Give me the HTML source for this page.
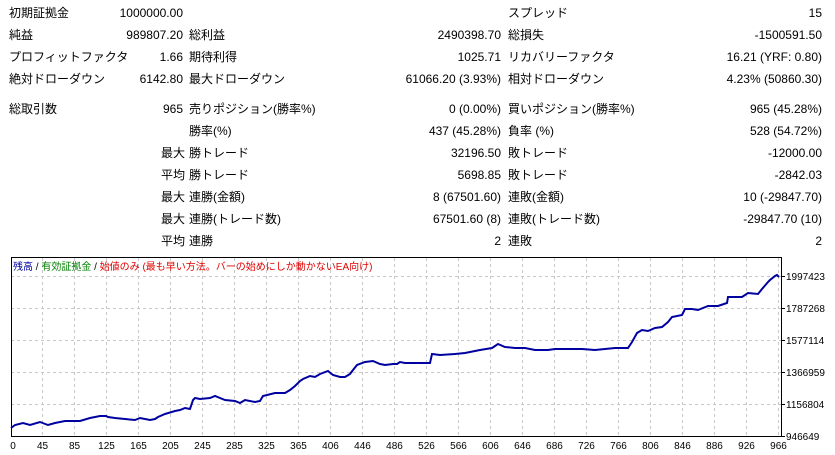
<!DOCTYPE html>
<html><head><meta charset="utf-8"><style>
body{margin:0;width:835px;height:455px;background:#fff;overflow:hidden;position:relative;font-family:"Liberation Sans","Noto Sans CJK JP",sans-serif;font-size:12px;color:#000}
.t{position:absolute;white-space:nowrap;line-height:16px}
.r{text-align:right}
</style></head><body>
<div id="tbl"></div>
<script>
var rows=[
[13,"初期証拠金","1000000.00","","","スプレッド","15"],
[35,"純益","989807.20","総利益","2490398.70","総損失","-1500591.50"],
[57,"プロフィットファクタ","1.66","期待利得","1025.71","リカバリーファクタ","16.21 (YRF: 0.80)"],
[79,"絶対ドローダウン","6142.80","最大ドローダウン","61066.20 (3.93%)","相対ドローダウン","4.23% (50860.30)"],
[109,"総取引数","965","売りポジション(勝率%)","0 (0.00%)","買いポジション(勝率%)","965 (45.28%)"],
[131,"","","勝率(%)","437 (45.28%)","負率 (%)","528 (54.72%)"],
[153,"","最大","勝トレード","32196.50","敗トレード","-12000.00"],
[175,"","平均","勝トレード","5698.85","敗トレード","-2842.03"],
[197,"","最大","連勝(金額)","8 (67501.60)","連敗(金額)","10 (-29847.70)"],
[219,"","最大","連勝(トレード数)","67501.60 (8)","連敗(トレード数)","-29847.70 (10)"],
[241,"","平均","連勝","2","連敗","2"]];
var h="";
rows.forEach(function(r,i){var y=r[0]-8;
 h+='<div class="t" style="left:9px;top:'+y+'px">'+r[1]+'</div>';
 if(r[2]){ if(i>=6) h+='<div class="t" style="left:161px;top:'+y+'px">'+r[2]+'</div>';
 else h+='<div class="t r" style="right:652px;top:'+y+'px">'+r[2]+'</div>';}
 h+='<div class="t" style="left:189px;top:'+y+'px">'+r[3]+'</div>';
 h+='<div class="t r" style="right:334px;top:'+y+'px">'+r[4]+'</div>';
 h+='<div class="t" style="left:508px;top:'+y+'px">'+r[5]+'</div>';
 h+='<div class="t r" style="right:13px;top:'+y+'px">'+r[6]+'</div>';
});
document.getElementById("tbl").innerHTML=h;
</script>
<svg width="835" height="455" style="position:absolute;left:0;top:0" font-family="Liberation Sans, Noto Sans CJK JP, sans-serif">
<g stroke="#c8c8c8" stroke-dasharray="3,3" stroke-width="1">
<line x1="11" x2="781" y1="276.5" y2="276.5"/><line x1="11" x2="781" y1="308.5" y2="308.5"/><line x1="11" x2="781" y1="340.5" y2="340.5"/><line x1="11" x2="781" y1="372.5" y2="372.5"/><line x1="11" x2="781" y1="404.5" y2="404.5"/>
<g id="vg"></g>
</g>
<rect x="11.5" y="257.5" width="770" height="179" fill="none" stroke="#000"/>
<polyline fill="none" stroke="#0000a0" stroke-width="2" points="11,428 15,425 23,423 30,425 40,422 48,425 55,423 65,421 80,421 90,418 100,416 106,416 108,417 115,418 125,419 135,420 140,418 150,420 155,419 158,417 165,414 175,411 180,410 185,408 190,409 193,400 195,398 200,399 210,398 215,396 225,400 235,401 240,403 245,400 255,402 260,401 263,396 275,393 285,393 290,390 295,386 300,381 303,379 310,376 315,377 320,374 328,371 333,375 340,377 345,377 350,374 353,370 357,365 365,362 373,361 380,364 385,365 393,364 397,364 400,362 405,363 415,363 430,363 432,354 440,355 455,354 465,353 480,350 492,348 498,344 505,347 515,348 525,348 535,350 548,350 555,349 582,349 595,350 615,348 628,348 632,342 637,333 642,330 648,331 655,328 662,327 668,322 672,317 682,315 685,309 692,309 698,310 708,306 718,306 727,303 728,297 742,297 748,293 758,294 762,289 768,282 770,280 775,276 777,275 779,277"/>
<text x="13" y="270" font-size="10"><tspan fill="#0000a0">残高</tspan><tspan fill="#000"> / </tspan><tspan fill="#008000">有効証拠金</tspan><tspan fill="#000"> / </tspan><tspan fill="#e00000">始値のみ (最も早い方法。バーの始めにしか動かないEA向け)</tspan></text>
<g font-size="10" fill="#000" id="yl">
<text x="786" y="280">1997423</text><text x="786" y="312">1787268</text><text x="786" y="344">1577114</text><text x="786" y="376">1366959</text><text x="786" y="408">1156804</text><text x="786" y="440">946649</text>
</g>
<g font-size="10" fill="#000" text-anchor="middle" id="xl"></g>
<g stroke="#000" id="tk"></g>
</svg>
<script>
var xs=[0,45,85,125,165,205,245,285,325,365,406,446,486,526,566,606,646,686,726,766,806,846,886,926,966];
var vg="",xl="",tk="";
for(var i=0;i<xs.length;i++){var x=i==0?13:42.5+32*(i-1);
 if(i>0)vg+='<line x1="'+x+'" x2="'+x+'" y1="258" y2="436"/>';
 xl+='<text x="'+x+'" y="449">'+xs[i]+'</text>';}
[276.5,308.5,340.5,372.5,404.5,436.5].forEach(function(y){tk+='<line x1="781" x2="785" y1="'+y+'" y2="'+y+'"/>';});
document.getElementById("vg").innerHTML=vg;
document.getElementById("xl").innerHTML=xl;
document.getElementById("tk").innerHTML=tk;
</script>
</body></html>
